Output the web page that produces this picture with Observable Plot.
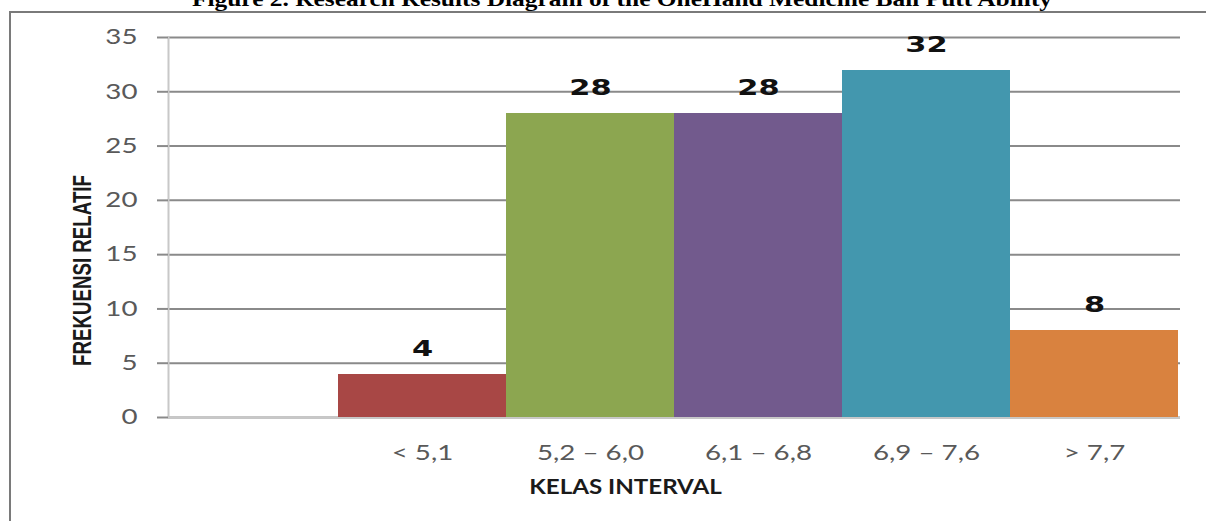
<!DOCTYPE html>
<html>
<head>
<meta charset="utf-8">
<script src="https://cdn.jsdelivr.net/npm/d3@7"></script>
<script src="https://cdn.jsdelivr.net/npm/@observablehq/plot@0.6"></script>
<style>
  html, body { margin: 0; padding: 0; background: #fff; width: 1206px; height: 521px; overflow: hidden; }
  #title {
    position: absolute; left: 0; width: 1244px; top: -12px; text-align: center;
    font-family: "Liberation Serif", "Times New Roman", serif; font-weight: bold; font-size: 22px;
    line-height: 22px; white-space: nowrap; color: #000;
    transform: scaleX(1.155); transform-origin: 622px 0;
  }
  #frame {
    position: absolute; left: 9px; top: 11px; right: -4px; bottom: -4px;
    border-left: 2px solid #7a7a7a; border-top: 2px solid #7a7a7a;
  }
  #chart { position: absolute; left: 0; top: 0; }
</style>
</head>
<body>
<div id="title">Figure 2. Research Results Diagram of the OneHand Medicine Ball Putt Ability</div>
<div id="frame"></div>
<div id="chart"></div>
<script>
// ---- data ----
const classes = ["< 5,1", "5,2 – 6,0", "6,1 – 6,8", "6,9 – 7,6", "> 7,7"];
const frequencies = [4, 28, 28, 32, 8];
const xSlots = ["", ...classes];           // first slot is empty in the original chart
const yTicks = [0, 5, 10, 15, 20, 25, 30, 35];
const palette = ["#A84745", "#8CA650", "#725A8D", "#4397AE", "#D9823F"];
const xTitle = "KELAS INTERVAL";
const yTitle = "FREKUENSI RELATIF";

const data = classes.map((c, i) => ({kelas: c, frek: frequencies[i]}));

const svg = Plot.plot({
  width: 1206,
  height: 521,
  marginLeft: 168,
  marginRight: 26,
  marginTop: 37,
  marginBottom: 104,
  style: {fontFamily: "Lato, 'Open Sans', sans-serif", fontSize: "21px", color: "#595959", background: "transparent", overflow: "visible"},
  x: {domain: xSlots, padding: 0, label: null},
  y: {domain: [0, 35], label: null},
  color: {domain: classes, range: palette},
  marks: [
    Plot.gridY({ticks: yTicks, stroke: "#8a8a8a", strokeOpacity: 1, strokeWidth: 2}),
    Plot.ruleY([0], {stroke: "#c8c8c8", strokeWidth: 2}),
    Plot.frame({anchor: "left", stroke: "#c8c8c8", strokeWidth: 2}),
    Plot.axisY({ticks: yTicks, tickSize: 11, tickPadding: 20, stroke: "#8a8a8a", strokeWidth: 2, fill: "#595959", label: null}),
    Plot.axisX({tickSize: 0, tickPadding: 28, fill: "#595959", label: null}),
    Plot.barY(data, {x: "kelas", y: "frek", fill: "kelas", shapeRendering: "crispEdges"}),
    Plot.text(data, {x: "kelas", y: "frek", text: d => String(d.frek), dy: -25, lineAnchor: "middle",
      fontFamily: "'DejaVu Sans', sans-serif", fontWeight: "bold", fontSize: 21, fill: "#111"}),
    Plot.text([xTitle], {frameAnchor: "bottom", dx: -49, dy: 70, lineAnchor: "middle", textAnchor: "middle",
      fontWeight: "bold", fontSize: 21, fill: "#1a1a1a"}),
    Plot.text([yTitle], {frameAnchor: "left", rotate: -90, dx: -86, dy: 43, lineAnchor: "middle", textAnchor: "middle",
      fontFamily: "'Liberation Sans', Arial, sans-serif", fontWeight: "bold", fontSize: 26, fill: "#1a1a1a"})
  ]
});

const S = d3.select(svg);
const addScale = (sel, sx) => sel.each(function () {
  const t = this.getAttribute("transform") || "";
  this.setAttribute("transform", (t + ` scale(${sx},1)`).trim());
});
addScale(S.selectAll('g[aria-label="y-axis tick label"] text'), 1.32);
addScale(S.selectAll('g[aria-label="x-axis tick label"] text'), 1.32);
S.selectAll('g[aria-label="text"] text').each(function () {
  const s = this.textContent;
  if (s === yTitle) {
    addScale(d3.select(this), 0.72);
  } else if (s === xTitle) {
    addScale(d3.select(this), 1.15);
  } else {
    addScale(d3.select(this), 1.45);
  }
});

document.getElementById("chart").appendChild(svg);
</script>
</body>
</html>
